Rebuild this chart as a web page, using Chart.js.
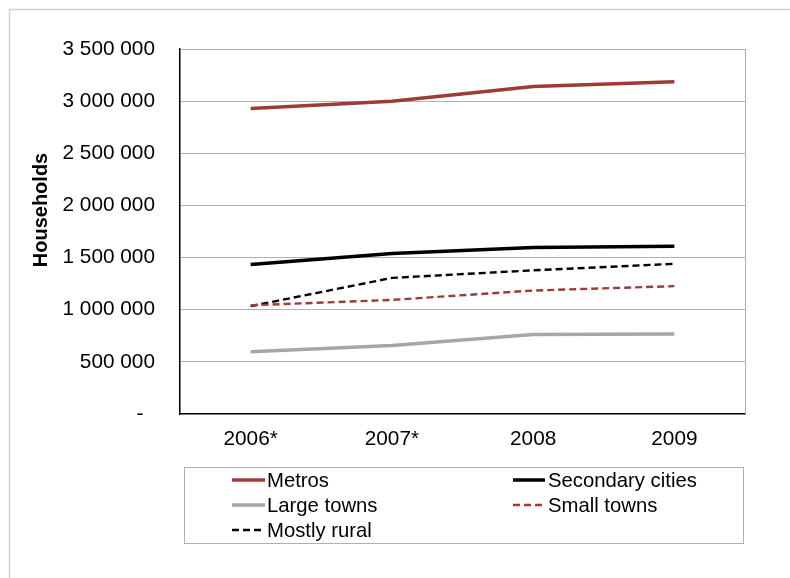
<!DOCTYPE html>
<html>
<head>
<meta charset="utf-8">
<title>Households by settlement type</title>
<script src="https://cdn.jsdelivr.net/npm/chart.js@4.4.1/dist/chart.umd.min.js"></script>
<style>
  html, body { margin: 0; padding: 0; background: #ffffff; }
  #wrap { width: 790px; height: 578px; position: relative; }
</style>
</head>
<body>
<div id="wrap"><canvas id="chart" width="790" height="578"></canvas></div>
<script>
// Years on the category axis
const categories = ['2006*', '2007*', '2008', '2009'];

// Households per settlement type
const metros          = [2930000, 3000000, 3140000, 3185000];
const secondaryCities = [1434000, 1540000, 1597000, 1609000];
const largeTowns      = [597000, 657000, 762000, 766000];
const smallTowns      = [1042000, 1094000, 1184000, 1226000];
const mostlyRural     = [1034000, 1305000, 1378000, 1440000];

// Value-axis tick labels, bottom to top
const yTickLabels = ['-\u00a0\u00a0', '500 000', '1 000 000', '1 500 000', '2 000 000', '2 500 000', '3 000 000', '3 500 000'];

const FONT = "'Liberation Sans', Arial, sans-serif";
const RED = '#9e3b38';
const GREY_LINE = '#a6a6a6';
const GRID = '#b0b0b0';

Chart.defaults.font.family = FONT;
Chart.defaults.font.size = 20;
Chart.defaults.color = '#000000';

// Frame, plot-area right edge, rotated axis title and two-column legend
const decorations = {
  id: 'decorations',
  beforeDraw(chart) {
    const ctx = chart.ctx;
    ctx.save();
    ctx.fillStyle = '#ffffff';
    ctx.fillRect(0, 0, chart.width, chart.height);
    ctx.strokeStyle = '#d0d0d0';
    ctx.lineWidth = 1.5;
    ctx.beginPath();
    ctx.moveTo(9.5, chart.height);
    ctx.lineTo(9.5, 9.5);
    ctx.lineTo(chart.width, 9.5);
    ctx.stroke();
    ctx.restore();
  },
  beforeDatasetsDraw(chart) {
    const { ctx, chartArea } = chart;
    ctx.save();
    ctx.strokeStyle = GRID;
    ctx.lineWidth = 1;
    ctx.beginPath();
    ctx.moveTo(Math.round(chartArea.right) + 0.5, chartArea.top);
    ctx.lineTo(Math.round(chartArea.right) + 0.5, chartArea.bottom);
    ctx.stroke();
    ctx.restore();
  },
  afterDraw(chart) {
    const ctx = chart.ctx;
    ctx.save();
    // Value-axis title
    ctx.translate(41, 210);
    ctx.rotate(-Math.PI / 2);
    ctx.font = 'bold 20px ' + FONT;
    ctx.fillStyle = '#000000';
    ctx.textAlign = 'center';
    ctx.textBaseline = 'middle';
    ctx.fillText('Households', 0, 0);
    ctx.restore();

    // Legend box
    const box = { left: 184, top: 467, right: 743, bottom: 543 };
    ctx.save();
    ctx.strokeStyle = GRID;
    ctx.lineWidth = 1;
    ctx.strokeRect(box.left + 0.5, box.top + 0.5, box.right - box.left, box.bottom - box.top);
    const cols = [{ x0: 232, x1: 265, tx: 267 }, { x0: 513, x1: 545, tx: 548 }];
    const rows = [480, 505, 530];
    ctx.font = '20.3px ' + FONT;
    ctx.textBaseline = 'middle';
    ctx.textAlign = 'left';
    chart.data.datasets.forEach((ds, i) => {
      const col = cols[i % 2];
      const y = rows[Math.floor(i / 2)];
      ctx.save();
      ctx.strokeStyle = ds.borderColor;
      ctx.lineWidth = ds.borderWidth;
      ctx.setLineDash(ds.borderDash || []);
      ctx.beginPath();
      ctx.moveTo(col.x0, y);
      ctx.lineTo(col.x1, y);
      ctx.stroke();
      ctx.restore();
      ctx.fillStyle = '#000000';
      ctx.fillText(ds.label, col.tx, y + 1);
    });
    ctx.restore();
  }
};

new Chart(document.getElementById('chart'), {
  type: 'line',
  data: {
    labels: categories,
    datasets: [
      { label: 'Metros', data: metros, borderColor: RED, borderWidth: 3.5 },
      { label: 'Secondary cities', data: secondaryCities, borderColor: '#000000', borderWidth: 3.5 },
      { label: 'Large towns', data: largeTowns, borderColor: GREY_LINE, borderWidth: 3.5 },
      { label: 'Small towns', data: smallTowns, borderColor: RED, borderWidth: 2.4, borderDash: [7, 4] },
      { label: 'Mostly rural', data: mostlyRural, borderColor: '#000000', borderWidth: 2.4, borderDash: [7, 4] }
    ]
  },
  options: {
    responsive: false,
    animation: false,
    devicePixelRatio: 1,
    layout: { padding: { left: 0, right: 45, top: 49, bottom: 124 } },
    elements: {
      point: { radius: 0, hoverRadius: 0 },
      line: { tension: 0, fill: false, borderCapStyle: 'butt' }
    },
    plugins: {
      legend: { display: false },
      tooltip: { enabled: false },
      title: { display: false }
    },
    scales: {
      x: {
        type: 'category',
        offset: true,
        grid: { display: false, drawTicks: false },
        border: { display: true, color: '#000000', width: 1.5 },
        ticks: { padding: 13, maxRotation: 0, autoSkip: false, font: { size: 20.8 } },
        afterFit(scale) { scale.height = 40; }
      },
      y: {
        min: 0,
        max: 3500000,
        grid: {
          drawTicks: false,
          color: (ctx) => (ctx.tick && ctx.tick.value === 0 ? 'rgba(0,0,0,0)' : GRID),
          lineWidth: 1
        },
        border: { display: true, color: '#000000', width: 1.5 },
        ticks: {
          stepSize: 500000,
          padding: 25,
          font: { size: 20.8 },
          callback: (value, index) => yTickLabels[index]
        },
        afterFit(scale) { scale.width = 180; }
      }
    }
  },
  plugins: [decorations]
});
</script>
</body>
</html>
